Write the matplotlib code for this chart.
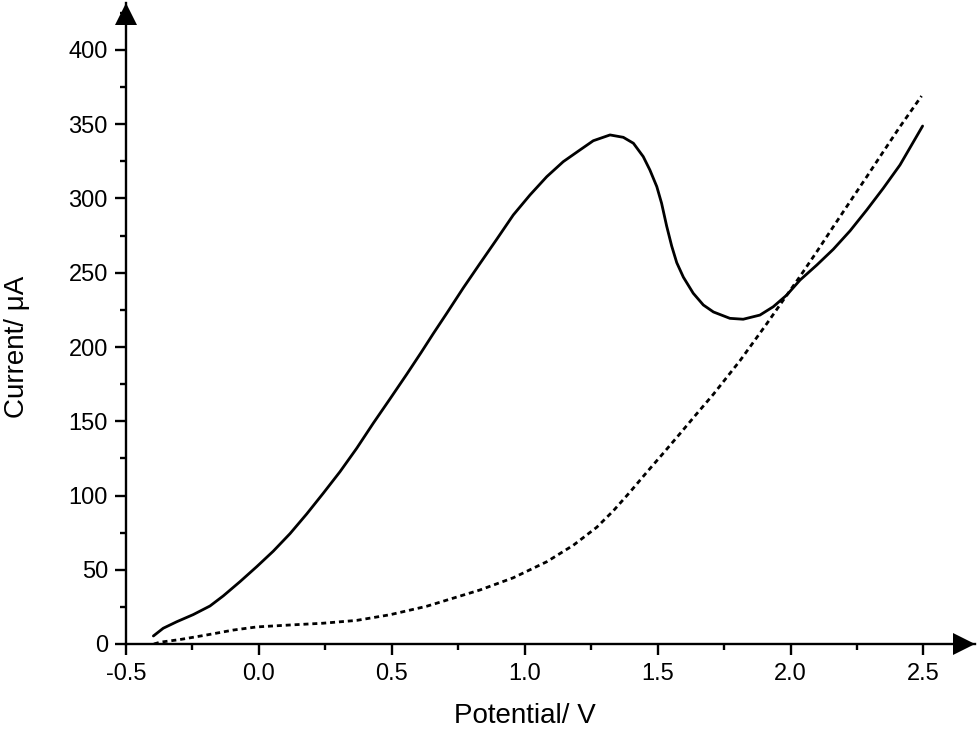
import matplotlib
matplotlib.use("Agg")
import matplotlib.pyplot as plt
import matplotlib.transforms as mtransforms
from matplotlib.ticker import MultipleLocator

plt.rcParams['font.family'] = ['Liberation Sans', 'DejaVu Sans']

# Solid curve (sample), potential in V, current in uA
v_solid = [-0.397, -0.360, -0.309, -0.247, -0.184, -0.134, -0.071, -0.008,
           0.054, 0.117, 0.180, 0.242, 0.305, 0.368, 0.430, 0.493, 0.556,
           0.610, 0.656, 0.706, 0.769, 0.832, 0.895, 0.957, 1.020, 1.083,
           1.145, 1.208, 1.258, 1.321, 1.371, 1.409, 1.446, 1.471, 1.497,
           1.515, 1.534, 1.553, 1.572, 1.597, 1.634, 1.672, 1.710, 1.772,
           1.822, 1.885, 1.935, 1.986, 2.036, 2.099, 2.161, 2.224, 2.287,
           2.349, 2.412, 2.497]
i_solid = [5.4, 10.6, 15.0, 19.8, 25.6, 32.4, 42.0, 52.1,
           62.5, 74.3, 87.6, 101.5, 116.0, 131.8, 148.6, 165.0, 181.6,
           196.2, 209.0, 222.5, 239.8, 256.3, 272.6, 288.9, 302.4, 314.7,
           324.8, 332.7, 338.9, 342.8, 341.2, 337.2, 328.2, 319.2, 308.0,
           296.8, 281.5, 268.0, 256.8, 247.0, 236.2, 228.3, 223.6, 219.3,
           218.7, 221.5, 227.1, 235.0, 245.1, 255.2, 265.8, 278.2, 292.3,
           306.9, 322.6, 348.8]

# Dashed curve (blank)
v_dash = [-0.395, -0.372, -0.297, -0.196, -0.096, -0.008, 0.117, 0.242,
          0.368, 0.493, 0.631, 0.832, 0.957, 1.083, 1.183, 1.271, 1.333,
          1.396, 1.459, 1.521, 1.584, 1.647, 1.710, 1.810, 1.910, 1.973,
          2.036, 2.099, 2.161, 2.224, 2.287, 2.349, 2.412, 2.493]
i_dash = [0.0, 1.2, 3.0, 6.1, 9.4, 11.5, 12.8, 14.0,
          15.9, 19.7, 25.4, 36.4, 44.6, 55.4, 66.5, 78.6, 89.6,
          102.3, 115.6, 128.4, 141.6, 155.0, 168.2, 190.8, 215.5, 231.6,
          247.6, 264.2, 281.0, 297.9, 314.7, 331.5, 348.4, 369.0]

x_ticks = [-0.5, 0.0, 0.5, 1.0, 1.5, 2.0, 2.5]
x_ticklabels = ["-0.5", "0.0", "0.5", "1.0", "1.5", "2.0", "2.5"]
y_ticks = [0, 50, 100, 150, 200, 250, 300, 350, 400]

W, H = 979, 731
fig = plt.figure(figsize=(W / 100, H / 100), dpi=100)
x0, x1 = 126, 975
y0, y1 = 644, 3
ax = fig.add_axes([x0 / W, 1 - y0 / H, (x1 - x0) / W, (y0 - y1) / H])

ax.plot(v_solid, i_solid, color='black', lw=2.0, solid_capstyle='round',
        solid_joinstyle='round')
ax.plot(v_dash, i_dash, color='black', lw=2.0, linestyle=(0, (1.8, 1.4)),
        dash_joinstyle='round')

ax.set_xlim(-0.5, -0.5 + (x1 - x0) / 265.8)
ax.set_ylim(0, (y0 - y1) / 1.485)

for s in ['top', 'right']:
    ax.spines[s].set_visible(False)
for s in ['left', 'bottom']:
    ax.spines[s].set_linewidth(1.7)

ax.set_xticks(x_ticks)
ax.set_xticklabels(x_ticklabels)
ax.set_yticks(y_ticks)
ax.xaxis.set_minor_locator(MultipleLocator(0.25))
ax.yaxis.set_minor_locator(MultipleLocator(25))
ax.tick_params(which='major', direction='out', length=8, width=1.7,
               labelsize=17)
ax.tick_params(which='minor', direction='out', length=4, width=1.7)
ax.tick_params(axis='x', pad=6)
ax.tick_params(axis='y', pad=5)

# arrowheads with their tips at the ends of the axes
ms = 16
tx = mtransforms.offset_copy(ax.transAxes, fig=fig, x=-ms / 2.0, y=0,
                             units='points')
ty = mtransforms.offset_copy(ax.transAxes, fig=fig, x=0, y=-ms / 2.0,
                             units='points')
ax.plot(1, 0, marker='>', markersize=ms, color='black', transform=tx,
        clip_on=False, markeredgewidth=0)
ax.plot(0, 1, marker='^', markersize=ms, color='black', transform=ty,
        clip_on=False, markeredgewidth=0)

fig.text(525 / W, 1 - 716 / H, "Potential/ V", ha='center', va='center',
         fontsize=20)
fig.text(17 / W, 1 - 347 / H, "Current/ μA", ha='center', va='center',
         rotation=90, fontsize=20)

fig.savefig("out.png", dpi=100)
